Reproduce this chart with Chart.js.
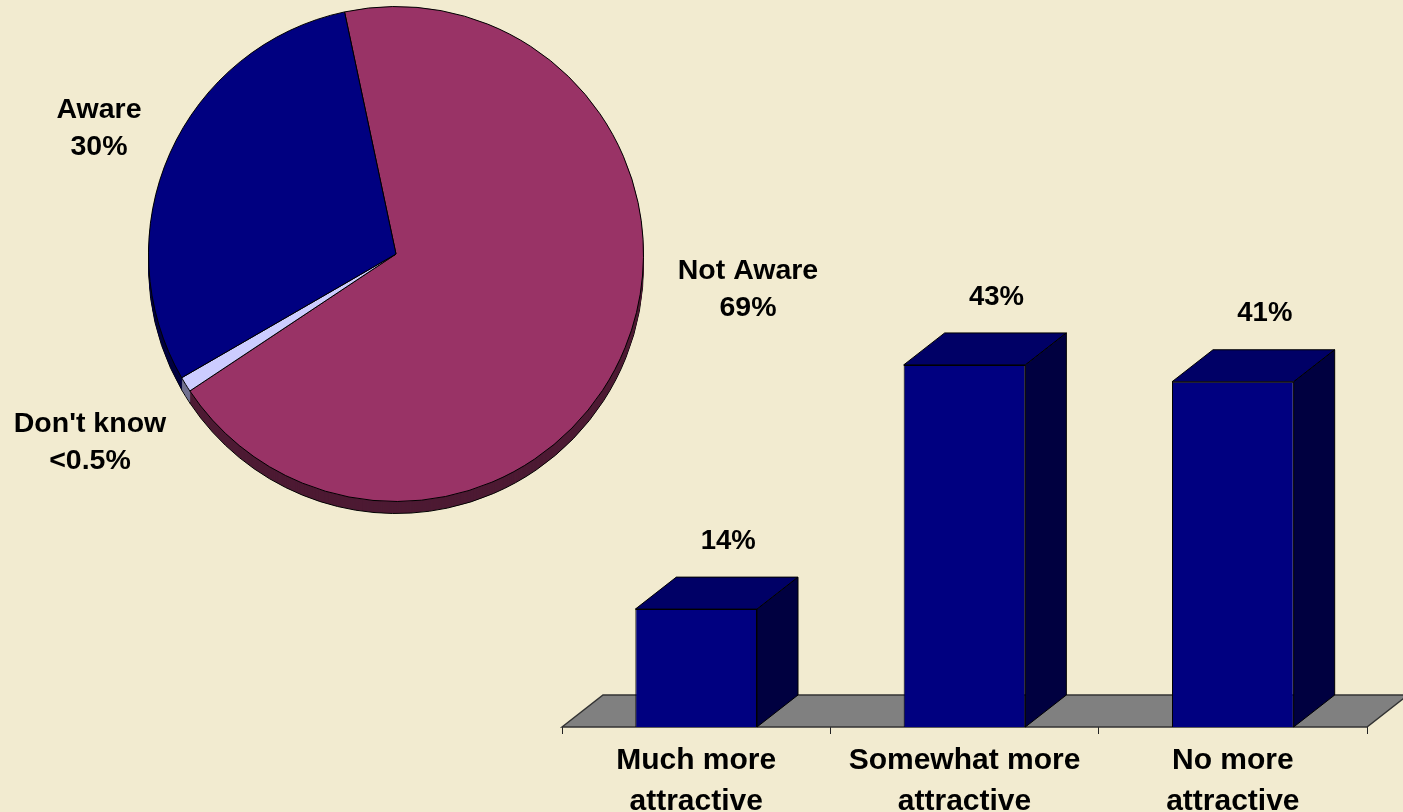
<!DOCTYPE html>
<html>
<head>
<meta charset="utf-8">
<script src="https://cdn.jsdelivr.net/npm/chart.js@4.4.1/dist/chart.umd.min.js"></script>
<style>
  html, body { margin: 0; padding: 0; background: #F2EBD0; width: 1403px; height: 812px; overflow: hidden; }
  canvas { position: absolute; left: 0; top: 0; }
</style>
</head>
<body>
<canvas id="pie" width="1403" height="812"></canvas>
<canvas id="bar" width="1403" height="812"></canvas>
<script>
// ---- Data ----
const pieCategories = ['Not Aware', "Don't know", 'Aware'];
const pieValues = [69, 1, 30];
const pieLabelLines = [['Not Aware', '69%'], ["Don't know", '<0.5%'], ['Aware', '30%']];

const barCategories = [['Much more', 'attractive'], ['Somewhat more', 'attractive'], ['No more', 'attractive']];
const barValues = [14, 43, 41];

// ---- Styles ----
const pieColors = ['#993366', '#CCCCFF', '#000080'];
const pieDepthColors = ['#4D1A33', '#70708F', '#000040'];
const pieLabelOffsets = [[352, 36], [-306, 189], [-297, -125]];
const PIE_DEPTH = 12;
const BAR_DX = 41, BAR_DY = 32;
const FONT = "'Liberation Sans', Arial, Helvetica, sans-serif";

const pieDepthPlugin = {
  id: 'pieDepth',
  beforeDatasetsDraw(chart) {
    const ctx = chart.ctx;
    const arcs = chart.getDatasetMeta(0).data;
    ctx.save();
    for (let d = PIE_DEPTH; d >= 1; d--) {
      arcs.forEach((a, i) => {
        ctx.beginPath();
        ctx.moveTo(a.x, a.y + d);
        ctx.arc(a.x, a.y + d, a.outerRadius, a.startAngle, a.endAngle);
        ctx.closePath();
        ctx.fillStyle = pieDepthColors[i];
        ctx.fill();
        if (d === PIE_DEPTH) {
          ctx.strokeStyle = '#000';
          ctx.lineWidth = 1;
          ctx.stroke();
        }
      });
    }
    ctx.restore();
  },
  afterDatasetsDraw(chart) {
    const ctx = chart.ctx;
    const arcs = chart.getDatasetMeta(0).data;
    ctx.save();
    ctx.font = 'bold 28.5px ' + FONT;
    ctx.fillStyle = '#000';
    ctx.textAlign = 'center';
    ctx.textBaseline = 'middle';
    arcs.forEach((a, i) => {
      const cx = a.x + pieLabelOffsets[i][0];
      const cy = a.y + pieLabelOffsets[i][1];
      const lines = pieLabelLines[i];
      ctx.fillText(lines[0], cx, cy - 18.5);
      ctx.fillText(lines[1], cx, cy + 18.5);
    });
    ctx.restore();
  }
};

new Chart(document.getElementById('pie'), {
  type: 'pie',
  data: {
    labels: pieCategories,
    datasets: [{
      data: pieValues,
      backgroundColor: pieColors,
      borderColor: '#000',
      borderWidth: 1,
      hoverOffset: 0
    }]
  },
  options: {
    responsive: false,
    animation: false,
    events: [],
    rotation: -12,
    layout: { padding: { left: 148, top: 6, right: 759, bottom: 310 } },
    plugins: { legend: { display: false }, tooltip: { enabled: false } }
  },
  plugins: [pieDepthPlugin]
});

const bar3dPlugin = {
  id: 'bar3d',
  beforeDatasetsDraw(chart) {
    const ctx = chart.ctx;
    const xs = chart.scales.x, ys = chart.scales.y;
    const base = ys.getPixelForValue(0);
    ctx.save();
    ctx.beginPath();
    ctx.moveTo(xs.left, base);
    ctx.lineTo(xs.left + BAR_DX, base - BAR_DY);
    ctx.lineTo(xs.right + BAR_DX, base - BAR_DY);
    ctx.lineTo(xs.right, base);
    ctx.closePath();
    ctx.fillStyle = '#808080';
    ctx.fill();
    ctx.strokeStyle = '#333';
    ctx.lineWidth = 1.5;
    ctx.stroke();
    ctx.restore();
  },
  afterDatasetsDraw(chart) {
    const ctx = chart.ctx;
    const bars = chart.getDatasetMeta(0).data;
    ctx.save();
    ctx.strokeStyle = '#000';
    ctx.lineWidth = 1;
    bars.forEach((b, i) => {
      const l = b.x - b.width / 2, r = b.x + b.width / 2, t = b.y, bt = b.base;
      // top
      ctx.beginPath();
      ctx.moveTo(l, t);
      ctx.lineTo(l + BAR_DX, t - BAR_DY);
      ctx.lineTo(r + BAR_DX, t - BAR_DY);
      ctx.lineTo(r, t);
      ctx.closePath();
      ctx.fillStyle = '#000066';
      ctx.fill(); ctx.stroke();
      // side
      ctx.beginPath();
      ctx.moveTo(r, t);
      ctx.lineTo(r + BAR_DX, t - BAR_DY);
      ctx.lineTo(r + BAR_DX, bt - BAR_DY);
      ctx.lineTo(r, bt);
      ctx.closePath();
      ctx.fillStyle = '#000040';
      ctx.fill(); ctx.stroke();
      // value label
      ctx.fillStyle = '#000';
      ctx.font = 'bold 27.5px ' + FONT;
      ctx.textAlign = 'center';
      ctx.textBaseline = 'middle';
      ctx.fillText(barValues[i] + '%', b.x + 32, t - BAR_DY - 36);
    });
    ctx.restore();
  }
};

new Chart(document.getElementById('bar'), {
  type: 'bar',
  data: {
    labels: barCategories,
    datasets: [{
      data: barValues,
      backgroundColor: '#000080',
      borderColor: '#000',
      borderWidth: 1,
      categoryPercentage: 1,
      barPercentage: 0.4535
    }]
  },
  options: {
    responsive: false,
    animation: false,
    events: [],
    layout: { padding: { left: 562, right: 36, top: 306, bottom: 0 } },
    plugins: { legend: { display: false }, tooltip: { enabled: false } },
    scales: {
      y: { display: false, min: 0, max: 50 },
      x: {
        afterFit: (s) => { s.height = 85; },
        border: { display: false },
        grid: { offset: true, drawOnChartArea: false, drawTicks: true, tickLength: 7, color: '#222', lineWidth: 1 },
        ticks: {
          color: '#000',
          padding: 7,
          maxRotation: 0,
          autoSkip: false,
          font: { family: FONT, size: 30, weight: 'bold', lineHeight: 1.34 }
        }
      }
    }
  },
  plugins: [bar3dPlugin]
});
</script>
</body>
</html>
